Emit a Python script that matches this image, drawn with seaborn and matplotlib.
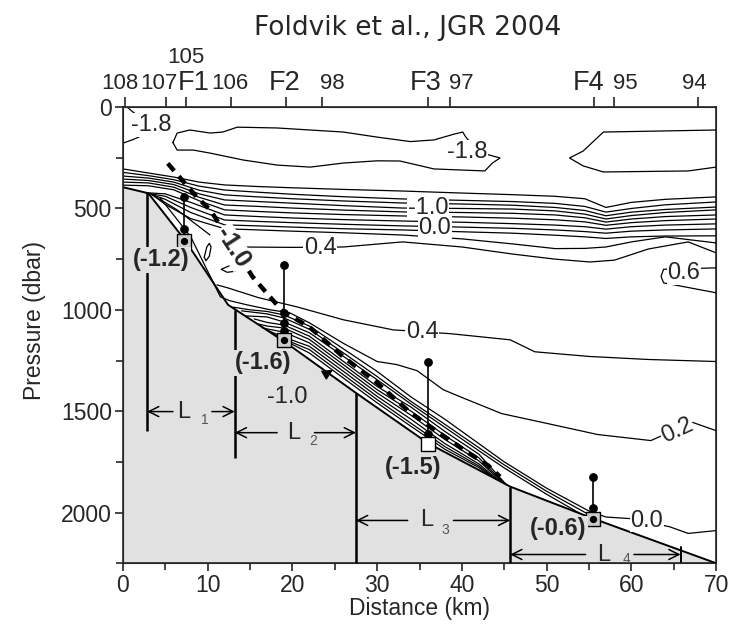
import numpy as np
import pandas as pd
import matplotlib
matplotlib.use("Agg")
import matplotlib.pyplot as plt
import seaborn as sns

# ---------------- data (km, dbar) ----------------
bottom_km = [0, 3, 7.3, 12.4, 19, 27.5, 36, 45.7, 55.5, 70]
bottom_p = [395, 425, 655, 975, 1155, 1410, 1658, 1872, 2030, 2250]

# -1.8 contours near the surface
c18a_km = [0.5, 1.2, 1.9, 2.8, 3.6, 3.0, 2.4, 1.2, 0.0]
c18a_p = [0, 25, 45, 70, 95, 120, 138, 160, 178]
c18b_km = [5.9, 6.4, 7.9, 10.3, 11.8, 13.5, 18.2, 22.1, 26, 30, 33.9, 36.7, 39.1, 40.1, 40.5,
           42.0, 44.5, 43.6, 42.7, 36.7, 32.7, 30, 26, 22.1, 18.2, 14.2, 10.3, 8.3, 6.4, 5.9]
c18b_p = [175, 128, 113, 128, 123, 99, 103, 113, 123, 148, 170, 162, 133, 123, 150,
          222, 251, 276, 315, 305, 266, 265, 276, 296, 286, 261, 227, 212, 212, 175]
c18c_km = [70, 56.7, 54.3, 52.7, 54.3, 56.7, 66.7, 70]
c18c_p = [113, 123, 217, 251, 290, 320, 315, 296]

# thermocline isotherms (-1.6 ... 0.2)
tc_km = [0, 3, 6, 9, 12, 16, 20, 26, 33, 40, 46, 51, 54.5, 57, 60, 64, 70]
tc_m16 = [305, 325, 345, 370, 384, 392, 398, 406, 414, 424, 432, 440, 452, 495, 470, 455, 443]
tc_m14 = [322, 338, 358, 390, 409, 420, 430, 442, 453, 460, 466, 475, 490, 518, 500, 482, 468]
tc_m12 = [340, 350, 370, 410, 433, 443, 452, 463, 473, 478, 484, 495, 510, 536, 518, 505, 493]
tc_m10 = [355, 362, 382, 428, 458, 466, 474, 486, 498, 500, 503, 512, 528, 552, 535, 520, 507]
tc_m08 = [370, 374, 395, 445, 483, 490, 498, 508, 517, 520, 524, 532, 546, 567, 552, 540, 532]
tc_m06 = [385, 388, 408, 462, 507, 515, 522, 530, 537, 542, 548, 556, 566, 583, 570, 560, 552]
tw_km = [5, 8, 12, 16, 20, 26, 33, 40, 46, 51, 54.5, 57, 60, 64, 70]
tc_m04 = [428, 470, 532, 540, 547, 555, 562, 568, 575, 582, 590, 602, 590, 582, 576]
tc_m02 = [440, 495, 557, 564, 570, 578, 586, 592, 598, 606, 614, 622, 612, 606, 601]
tc_p00 = [455, 520, 581, 586, 592, 600, 606, 615, 622, 632, 640, 648, 640, 636, 635]
tc_p02 = [480, 550, 600, 606, 612, 620, 631, 650, 675, 698, 697, 690, 665, 640, 670]
warm_start_km = [2.6, 2.9, 3.2, 3.4]
warm_start_p = [422, 425, 428, 431]

# 0.4 and 0.6 isotherms
c04u_km = [3.5, 6.4, 9, 11.5, 12.2, 13.8, 20, 26, 33, 40, 46, 51, 55.1, 58, 62, 66.7, 70]
c04u_p = [433, 507, 590, 670, 690, 690, 692, 690, 665, 690, 725, 750, 764, 755, 700, 665, 719]
c04l_km = [11.1, 12.4, 16, 20.5, 26, 31.9, 35.3, 38.7, 45.7, 48.6, 55, 62, 70]
c04l_p = [877, 892, 940, 985, 1049, 1099, 1108, 1118, 1148, 1207, 1230, 1245, 1255]
c06_km = [70, 63.8, 63.5, 63.8, 70]
c06_p = [793, 800, 835, 867, 916]

# slope isotherms (0.2 ... -1.6)
s02_km = [4.4, 8, 11.5, 12.6, 14.6, 17.4, 19.7, 22, 26, 30, 32.3, 34.7, 37.8, 39.8, 44.7,
          50, 56, 62.3, 64.7, 67.2, 70]
s02_p = [448, 640, 936, 955, 975, 1000, 1015, 1064, 1165, 1255, 1270, 1300, 1394, 1429, 1512,
         1560, 1615, 1645, 1600, 1555, 1596]
s00_km = [13, 15, 17, 19, 22, 26, 30, 34, 38, 42, 45, 50, 55.1, 57, 59.9, 64.5, 66.7, 70]
s00_p = [987, 1000, 1008, 1025, 1080, 1192, 1304, 1430, 1540, 1660, 1750, 1880, 1995, 2022, 2030,
         2070, 2103, 2089]
sm02_km = [14, 15, 17, 19, 22, 26, 30, 34, 38, 42, 45, 50, 55.5]
sm02_p = [1005, 1010, 1020, 1040, 1096, 1212, 1329, 1452, 1565, 1680, 1765, 1895, 2022]
sm04_km = [14.5, 17, 19, 22, 26, 30, 34, 38, 42, 45, 50, 54]
sm04_p = [1030, 1035, 1060, 1113, 1229, 1345, 1465, 1580, 1695, 1780, 1910, 2006]
sm06_km = [15.5, 17, 19, 22, 26, 30, 34, 38, 42, 45.3]
sm06_p = [1045, 1062, 1075, 1130, 1254, 1378, 1480, 1600, 1712, 1865]
sm08_km = [16, 17, 19, 22, 26, 30, 34, 38, 42, 45]
sm08_p = [1070, 1080, 1090, 1146, 1270, 1394, 1500, 1620, 1730, 1857]
sm10_km = [16.5, 19, 22, 26, 30, 34, 38, 42, 44.7]
sm10_p = [1090, 1110, 1163, 1286, 1410, 1520, 1640, 1745, 1848]
sm12_km = [17, 19, 22, 26, 30, 34, 38, 42, 44.3]
sm12_p = [1100, 1135, 1180, 1303, 1427, 1540, 1660, 1760, 1840]
sm14_km = [17.5, 19, 22, 26, 30, 34, 38, 42, 44]
sm14_p = [1115, 1145, 1196, 1320, 1443, 1560, 1675, 1770, 1833]
sm16_km = [18, 19, 22, 26, 30, 34, 38, 42, 43.5]
sm16_p = [1128, 1150, 1213, 1336, 1459, 1575, 1688, 1778, 1822]

# small closed contours near the shelf break
ell_km = [9.6, 9.9, 10.2, 10.4, 10.2, 9.8, 9.6]
ell_p = [740, 690, 672, 690, 735, 758, 740]
chev_km = [13.0, 11.6, 12.3, 13.2]
chev_p = [775, 800, 815, 810]

# thick dashed line
dash_km = [5.3, 8.7, 10.3, 12.5, 15.3, 18.9, 22, 26, 30, 33.9, 37.6, 40.7, 43.1, 44.5]
dash_p = [278, 443, 507, 650, 837, 1010, 1084, 1232, 1360, 1507, 1615, 1704, 1768, 1823]

# moorings
moor_km = [7.2, 19.0, 36.0, 55.5]
moor_top = [445, 778, 1256, 1823]
moor_bot = [660, 1150, 1660, 2030]
moor_dot_km = [7.2, 7.2, 19.0, 19.0, 19.0, 19.0, 36.0, 36.0, 55.5, 55.5, 55.5]
moor_dot_p = [445, 600, 778, 1015, 1065, 1105, 1256, 1615, 1823, 1980, 2012]
moor_min = ["(-1.2)", "(-1.6)", "(-1.5)", "(-0.6)"]
moor_min_km = [4.5, 16.5, 34.3, 51.4]
moor_min_p = [754, 1261, 1778, 2079]

# L segments
L_left = [2.85, 13.2, 27.5, 45.7]
L_right = [13.2, 27.5, 45.7, 65.8]
L_arrow_p = [1502, 1606, 2039, 2207]
L_gap_left = [5.9, 18.2, 33.6, 54.6]
L_gap_right = [10.5, 22.6, 39.0, 60.3]
L_text_km = [7.2, 20.1, 35.8, 56.7]
L_sub_km = [9.7, 22.4, 38.0, 59.4]
L_sub_dp = [42, 42, 45, 22]
Lv_km = [2.85, 13.2, 27.5, 45.7]
Lv_top = [425, 1000, 1410, 1872]
Lv_bot = [1600, 1730, 2250, 2250]

# top axis stations (tick positions and label positions)
st_tick_km = [0.2, 5.1, 7.4, 12.8, 19.2, 23.5, 36.0, 38.6, 55.6, 57.9, 67.9]
st_lab = ["108", "107", "F1", "106", "F2", "98", "F3", "97", "F4", "95", "94"]
st_lab_km = [-0.4, 4.25, 8.3, 12.6, 19.1, 24.7, 35.7, 39.9, 55.0, 59.3, 67.4]

# contour labels
clab_txt = ["-1.8", "-1.8", "-1.0", "0.0", "0.4", "0.6", "0.4", "0.2", "0.0"]
clab_km = [3.3, 40.6, 36.0, 36.8, 23.3, 66.2, 35.3, 65.4, 61.8]
clab_p = [89, 222, 498, 596, 695, 818, 1110, 1595, 2040]
clab_rot = [0, 0, 0, 0, 0, 0, 0, 25, 0]

# ---------------- plot ----------------
sns.set_style("ticks")
plt.rcParams['font.family'] = ['Liberation Sans', 'DejaVu Sans']

fig = plt.figure(figsize=(7.36, 6.3), dpi=100)
ax = fig.add_axes([0.167, 0.106, 0.806, 0.724])

GRAY = '#e1e1e1'
ax.fill_between(bottom_km, bottom_p, 2250, color=GRAY, zorder=1, lw=0)

lines = [
    (c18a_km, c18a_p), (c18b_km, c18b_p), (c18c_km, c18c_p),
    (c04u_km, c04u_p), (c04l_km, c04l_p), (c06_km, c06_p),
    (s02_km, s02_p), (s00_km, s00_p), (sm02_km, sm02_p), (sm04_km, sm04_p),
    (sm06_km, sm06_p), (sm08_km, sm08_p), (sm10_km, sm10_p), (sm12_km, sm12_p),
    (sm14_km, sm14_p), (sm16_km, sm16_p), (ell_km, ell_p), (chev_km, chev_p),
]
for arr in [tc_m16, tc_m14, tc_m12, tc_m10, tc_m08, tc_m06]:
    lines.append((tc_km, arr))
for i, arr in enumerate([tc_m04, tc_m02, tc_p00, tc_p02]):
    lines.append(([warm_start_km[i]] + tw_km, [warm_start_p[i]] + arr))

rows = []
for i, (xs, ps) in enumerate(lines):
    for j, (x, p) in enumerate(zip(xs, ps)):
        rows.append((i, j, x, p))
df = pd.DataFrame(rows, columns=['line', 'order', 'km', 'p'])
sns.lineplot(data=df, x='km', y='p', units='line', estimator=None, sort=False,
             color='k', lw=0.9, ax=ax, legend=False, zorder=3)

# bottom line
sns.lineplot(x=bottom_km, y=bottom_p, sort=False, estimator=None, color='k', lw=1.4, ax=ax, zorder=4)

# dashed line
sns.lineplot(x=dash_km, y=dash_p, sort=False, estimator=None, color='k', lw=3.2,
             ax=ax, zorder=5, linestyle=(0, (2.2, 1.6)))

# L vertical lines and arrows
for x, t, b in zip(Lv_km, Lv_top, Lv_bot):
    ax.plot([x, x], [t, b], color='k', lw=1.8, zorder=4, solid_capstyle='butt')
for i, (l, r, p) in enumerate(zip(L_left, L_right, L_arrow_p)):
    ax.annotate('', xy=(l, p), xytext=(L_gap_left[i], p),
                arrowprops=dict(arrowstyle='->', color='k', lw=1.1,
                                mutation_scale=18, shrinkA=0, shrinkB=0), zorder=4)
    ax.annotate('', xy=(r, p), xytext=(L_gap_right[i], p),
                arrowprops=dict(arrowstyle='->', color='k', lw=1.1,
                                mutation_scale=18, shrinkA=0, shrinkB=0), zorder=4)
    ax.text(L_text_km[i], p, 'L', ha='center', va='center', fontsize=17, zorder=6)
    ax.text(L_sub_km[i], p + L_sub_dp[i], str(i + 1), ha='center', va='center', fontsize=10,
            color='#555555', zorder=6)
ax.plot([65.8, 65.8], [2170, 2245], color='k', lw=1.4, zorder=4)

# moorings
for x, t, b in zip(moor_km, moor_top, moor_bot):
    ax.plot([x, x], [t, b], color='k', lw=1.2, zorder=6)
ax.scatter(moor_dot_km, moor_dot_p, s=28, color='k', zorder=7)
for i, (x, b) in enumerate(zip(moor_km, moor_bot)):
    fc = 'white' if i == 2 else '#cccccc'
    ax.scatter([x], [b], marker='s', s=90, facecolor=fc, edgecolor='k', lw=1.0, zorder=8)
    if i != 2:
        ax.scatter([x], [b], s=18, color='k', zorder=9)
for t, x, p in zip(moor_min, moor_min_km, moor_min_p):
    ax.text(x, p, t, ha='center', va='center', fontsize=17, fontweight='bold', zorder=9,
            bbox=dict(fc=GRAY, ec='none', pad=1))

# contour labels
for t, x, p, r in zip(clab_txt, clab_km, clab_p, clab_rot):
    ax.text(x, p, t, ha='center', va='center', fontsize=17, rotation=r, zorder=6,
            bbox=dict(fc='white', ec='none', pad=0.5))
ax.text(12.9, 690, '-1.0', ha='center', va='center', fontsize=18, fontweight='bold',
        rotation=-57, zorder=7, bbox=dict(fc='white', ec='none', pad=0.3))
ax.annotate('-1.0', xy=(24.8, 1296), xytext=(19.4, 1428), ha='center', va='center',
            fontsize=17, zorder=7,
            arrowprops=dict(arrowstyle='-|>', color='k', lw=1.0, mutation_scale=16,
                            shrinkA=15, shrinkB=0))

# axes
ax.set_xlim(0, 70)
ax.set_ylim(2250, 0)
ax.set_xticks(range(0, 71, 10))
ax.set_xticks(range(5, 70, 10), minor=True)
ax.set_yticks([0, 500, 1000, 1500, 2000])
ax.set_yticks([250, 750, 1250, 1750, 2250], minor=True)
ax.tick_params(axis='both', which='major', labelsize=16.5, length=6, width=1.2, direction='out', pad=2)
ax.tick_params(axis='both', which='minor', length=5, width=1.2, direction='out')
ax.set_xlabel('Distance (km)', fontsize=16.5, labelpad=0)
ax.set_ylabel('Pressure (dbar)', fontsize=16.5)
ax.yaxis.set_label_coords(-0.13, 0.533)
for s in ax.spines.values():
    s.set_linewidth(1.2)
    s.set_visible(True)

axt = ax.twiny()
axt.set_xlim(0, 70)
axt.set_xticks(st_tick_km)
axt.set_xticklabels([])
axt.tick_params(axis='x', length=7, width=1.2, direction='out')
for t, x in zip(st_lab, st_lab_km):
    fs = 19.5 if t.startswith('F') else 16
    axt.annotate(t, xy=(x, 1.0), xycoords=('data', 'axes fraction'), xytext=(0, 17),
                 textcoords='offset points', ha='center', va='center', fontsize=fs,
                 annotation_clip=False)
axt.annotate('105', xy=(7.4, 1.0), xycoords=('data', 'axes fraction'),
             xytext=(0, 35.5), textcoords='offset points', ha='center', va='center', fontsize=16,
             annotation_clip=False)

fig.text(0.554, 0.956, 'Foldvik et al., JGR 2004', ha='center', va='center', fontsize=19,
         family='DejaVu Sans')

fig.savefig('out.png', dpi=100)
